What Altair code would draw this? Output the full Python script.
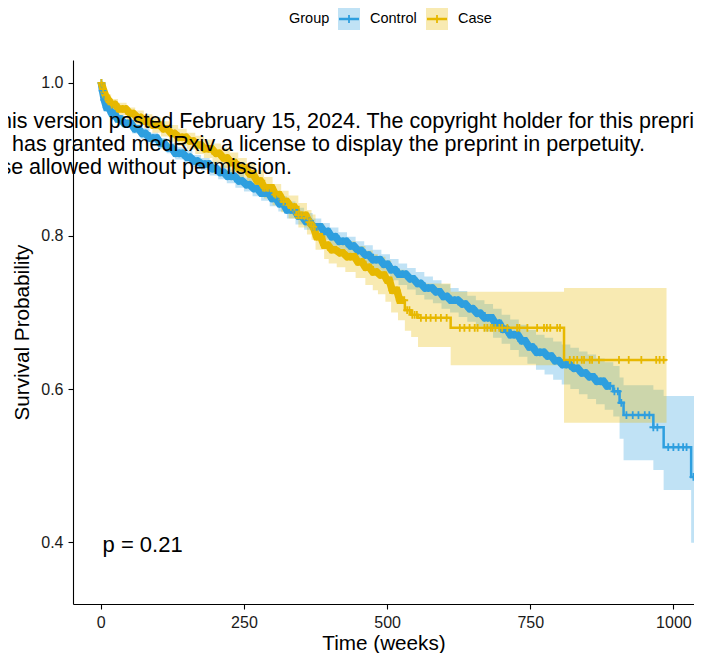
import bisect
import altair as alt
import pandas as pd

# ---------------- data ----------------
GROUPS = ["Control", "Case"]
COLORS = ["#2E9FDF", "#E7B800"]
LIGHT = ["#C0E2F5", "#F8EAB2"]

ctrl_time = [0, 2, 5, 10, 18, 28, 40, 55, 70, 85, 100, 115, 130, 145, 160, 175, 190, 205, 220, 235,
             250, 265, 280, 295, 310, 325, 340, 355, 370, 385, 400, 415, 430, 445, 460, 475, 490, 505,
             520, 535, 550, 565, 580, 595, 610, 625, 640, 655, 670, 685, 700, 715, 730, 745, 760, 775,
             790, 805, 820, 835, 850, 865, 880, 895, 906, 913, 965, 983, 1031, 1060]
ctrl_surv = [1.000, 0.990, 0.978, 0.968, 0.960, 0.953, 0.947, 0.940, 0.934, 0.928, 0.921, 0.915, 0.908,
             0.903, 0.898, 0.894, 0.888, 0.883, 0.878, 0.872, 0.867, 0.862, 0.856, 0.849, 0.842, 0.834,
             0.826, 0.819, 0.812, 0.806, 0.799, 0.793, 0.787, 0.781, 0.775, 0.769, 0.763, 0.756, 0.750,
             0.744, 0.738, 0.732, 0.727, 0.721, 0.716, 0.711, 0.705, 0.699, 0.693, 0.686, 0.678, 0.671,
             0.663, 0.655, 0.648, 0.643, 0.637, 0.632, 0.627, 0.621, 0.616, 0.610, 0.604, 0.597, 0.582,
             0.566, 0.550, 0.524, 0.485, 0.485]
ctrl_lo = [1.000, 0.986, 0.973, 0.963, 0.955, 0.948, 0.941, 0.934, 0.927, 0.921, 0.914, 0.908, 0.900,
           0.895, 0.890, 0.886, 0.879, 0.874, 0.869, 0.863, 0.858, 0.852, 0.846, 0.839, 0.832, 0.823,
           0.815, 0.808, 0.801, 0.795, 0.787, 0.781, 0.775, 0.769, 0.762, 0.756, 0.750, 0.742, 0.736,
           0.730, 0.723, 0.717, 0.712, 0.705, 0.700, 0.694, 0.688, 0.682, 0.675, 0.667, 0.659, 0.651,
           0.642, 0.633, 0.625, 0.619, 0.612, 0.606, 0.600, 0.593, 0.587, 0.580, 0.573, 0.564, 0.535,
           0.507, 0.494, 0.468, 0.399, 0.399]
ctrl_hi = [1.000, 0.994, 0.983, 0.973, 0.965, 0.958, 0.953, 0.946, 0.941, 0.935, 0.928, 0.922, 0.916,
           0.911, 0.906, 0.902, 0.897, 0.892, 0.887, 0.881, 0.876, 0.872, 0.866, 0.859, 0.852, 0.845,
           0.837, 0.830, 0.823, 0.817, 0.811, 0.805, 0.799, 0.793, 0.788, 0.782, 0.776, 0.770, 0.764,
           0.758, 0.753, 0.747, 0.742, 0.737, 0.732, 0.728, 0.722, 0.716, 0.711, 0.705, 0.697, 0.691,
           0.684, 0.677, 0.671, 0.667, 0.662, 0.658, 0.654, 0.649, 0.645, 0.640, 0.635, 0.630, 0.615,
           0.605, 0.599, 0.591, 0.591, 0.591]

case_time = [0, 2, 5, 10, 18, 30, 45, 60, 75, 90, 105, 120, 135, 150, 165, 180, 195, 210, 225, 240,
             255, 270, 285, 300, 315, 328, 345, 360, 368, 375, 390, 398, 412, 427, 445, 462, 475, 484,
             497, 507, 519, 531, 542, 554, 611, 809, 988]
case_surv = [1.000, 0.992, 0.984, 0.978, 0.972, 0.966, 0.960, 0.955, 0.950, 0.945, 0.940, 0.934, 0.929,
             0.924, 0.919, 0.914, 0.908, 0.902, 0.896, 0.889, 0.881, 0.872, 0.863, 0.854, 0.845, 0.838,
             0.827, 0.818, 0.812, 0.799, 0.788, 0.782, 0.778, 0.773, 0.766, 0.759, 0.753, 0.749, 0.742,
             0.729, 0.716, 0.703, 0.697, 0.693, 0.680, 0.638, 0.638]
case_lo = [1.000, 0.986, 0.977, 0.971, 0.965, 0.958, 0.952, 0.946, 0.941, 0.935, 0.930, 0.923, 0.918,
           0.913, 0.907, 0.902, 0.895, 0.889, 0.883, 0.876, 0.867, 0.858, 0.849, 0.840, 0.831, 0.823,
           0.811, 0.802, 0.795, 0.782, 0.770, 0.764, 0.759, 0.753, 0.745, 0.736, 0.729, 0.724, 0.714,
           0.700, 0.690, 0.676, 0.668, 0.655, 0.631, 0.556, 0.556]
case_hi = [1.000, 0.998, 0.991, 0.985, 0.979, 0.974, 0.968, 0.964, 0.959, 0.955, 0.950, 0.945, 0.940,
           0.935, 0.931, 0.926, 0.921, 0.915, 0.909, 0.902, 0.895, 0.886, 0.877, 0.868, 0.859, 0.853,
           0.843, 0.834, 0.828, 0.816, 0.806, 0.800, 0.797, 0.793, 0.787, 0.781, 0.776, 0.773, 0.768,
           0.760, 0.756, 0.750, 0.746, 0.738, 0.727, 0.732, 0.732]

# censoring times: a dense stretch (marks merge into a solid band) and sparse ones
ctrl_censor_dense = [1, 3, 6, 10, 14, 19, 24, 29, 35, 41, 47, 53, 59, 66, 72, 78, 85, 91, 98, 104, 111,
                     117, 124, 130, 137, 143, 150, 156, 163, 169, 176, 182, 189, 195, 202, 208, 215, 221,
                     228, 234, 241, 247, 254, 260, 267, 273, 280, 286, 293, 299, 306, 312, 319, 325, 332,
                     338, 345, 351, 358, 364, 371, 377, 384, 390, 397, 403, 410, 416, 423, 429, 436, 442,
                     449, 455, 462, 468, 475, 481, 488, 494, 501, 507, 514, 520, 527, 533, 540, 546, 553,
                     559, 566, 572, 579, 585, 592, 598, 605, 611, 618, 624, 631, 637, 644, 650, 657, 663,
                     670, 676, 683, 689, 696, 702, 709, 715, 722, 728, 735, 741, 748, 754, 761, 767, 774,
                     780, 787, 793, 800, 806, 813, 819, 826, 833, 840, 847, 853, 860, 866, 873, 878, 884,
                     890]
ctrl_censor_sparse = [897, 903, 909, 918, 929, 939, 950, 958, 965, 972, 991, 1000, 1009, 1017, 1023, 1035]
case_censor_dense = [1, 4, 8, 13, 19, 25, 31, 38, 44, 51, 57, 64, 70, 77, 83, 90, 96, 103, 109, 116, 123,
                     129, 136, 142, 149, 155, 162, 168, 175, 181, 188, 194, 201, 207, 214, 221, 227, 234,
                     240, 247, 253, 260, 266, 273, 279, 286, 292, 299, 305, 312, 319, 325, 332, 338, 345,
                     351, 358, 364, 371, 377, 384, 390, 397, 403, 410, 417, 423, 430, 436, 443, 449, 456,
                     462, 469, 475, 482, 488, 495, 500, 504, 509, 513, 517, 522, 526, 530]
case_censor_sparse = [535, 539, 544, 548, 552, 559, 568, 576, 585, 594, 604, 627, 635, 644, 653, 658, 670,
                      675, 681, 684, 689, 696, 701, 710, 727, 731, 745, 762, 774, 779, 785, 797, 802, 819,
                      826, 832, 840, 844, 854, 858, 870, 905, 922, 944, 970, 976, 983]

P_TEXT = "p = 0.21"
P_POS = (3, 0.396)

WATERMARK = [
    "this version posted February 15, 2024. The copyright holder for this preprint",
    "(which was not certified by peer review) is the author/funder, who has granted medRxiv a license to display the preprint in perpetuity.",
    "All rights reserved. No reuse allowed without permission.",
]

X_DOMAIN = [-48.6, 1036]
Y_DOMAIN = [0.319, 1.03]
FONT = "Liberation Sans"

# ---------------- tables ----------------
def curve_df(group, t, s, lo, hi):
    return pd.DataFrame({"group": group, "time": t, "surv": s, "lo": lo, "hi": hi})

def censor_df(group, times, t, s):
    vals = [s[bisect.bisect_right(t, c) - 1] for c in times]
    return pd.DataFrame({"group": group, "time": times, "surv": vals})

ctrl = curve_df("Control", ctrl_time, ctrl_surv, ctrl_lo, ctrl_hi)
case = curve_df("Case", case_time, case_surv, case_lo, case_hi)
ctrl_d = censor_df("Control", ctrl_censor_dense, ctrl_time, ctrl_surv)
case_d = censor_df("Case", case_censor_dense, case_time, case_surv)
ctrl_c = pd.concat([ctrl_d, censor_df("Control", ctrl_censor_sparse, ctrl_time, ctrl_surv)])
case_c = pd.concat([case_d, censor_df("Case", case_censor_sparse, case_time, case_surv)])

xs = alt.Scale(domain=X_DOMAIN, nice=False, zero=False)
ysc = alt.Scale(domain=Y_DOMAIN, nice=False, zero=False)
cs = alt.Scale(domain=GROUPS, range=COLORS)
COL = alt.Color("group:N", scale=cs, legend=None)

X = alt.X("time:Q", scale=xs, title="Time (weeks)",
          axis=alt.Axis(values=[0, 250, 500, 750, 1000], format="d", grid=False,
                        labelFlush=False, labelOverlap=False))
Y = alt.Y("surv:Q", scale=ysc, title="Survival Probability",
          axis=alt.Axis(values=[0.4, 0.6, 0.8, 1.0], format=".1f", grid=False))

def band(df):
    return alt.Chart(df).mark_area(interpolate="step-after", opacity=0.3, clip=True).encode(
        x=X, y="lo:Q", y2="hi:Q", color=COL)

def line(df):
    return alt.Chart(df).mark_line(interpolate="step-after", strokeWidth=2.5, clip=True).encode(
        x=X, y=Y, color=COL)

def dense_band(df):
    return alt.Chart(df).mark_line(strokeWidth=7.5, clip=True, strokeCap="butt").encode(
        x=X, y=Y, color=COL)

PLUS = "M-1,0L1,0M0,-1L0,1"

def cens(df):
    return alt.Chart(df).mark_point(shape=PLUS, size=60, filled=False, strokeWidth=1.8,
                                    opacity=1, clip=True).encode(x=X, y=Y, color=COL)

one = pd.DataFrame({"k": [0]})

p_df = pd.DataFrame({"time": [P_POS[0]], "surv": [P_POS[1]], "label": [P_TEXT]})
p_text = alt.Chart(p_df).mark_text(align="left", baseline="middle", fontSize=22, font=FONT,
                                   color="black").encode(x=X, y=Y, text="label:N")

# watermark overlay (pixel positions relative to the plot area)
wm = []
wm_specs = [(WATERMARK[0], "left", -79, 68), (WATERMARK[1], "right", 572, 91),
            (WATERMARK[2], "right", 219, 114)]
for txt, al, px, py in wm_specs:
    wm.append(alt.Chart(one).mark_text(text=txt, align=al, baseline="alphabetic", fontSize=21.5,
                                       font=FONT, color="black").encode(
        x=alt.value(px), y=alt.value(py)))

# legend drawn above the plot
leg = [alt.Chart(one).mark_text(text="Group", align="left", baseline="middle", fontSize=14.5,
                                font=FONT, color="black").encode(x=alt.value(216), y=alt.value(-41))]
for i, (g, c, light) in enumerate(zip(GROUPS, COLORS, LIGHT)):
    x0 = 265 + i * 88
    leg.append(alt.Chart(one).mark_rect(color=light).encode(
        x=alt.value(x0), x2=alt.value(x0 + 22), y=alt.value(-52), y2=alt.value(-30)))
    leg.append(alt.Chart(one).mark_rule(color=c, strokeWidth=2.5).encode(
        x=alt.value(x0 + 1), x2=alt.value(x0 + 21), y=alt.value(-41)))
    leg.append(alt.Chart(one).mark_rule(color=c, strokeWidth=1.8).encode(
        x=alt.value(x0 + 11), y=alt.value(-45), y2=alt.value(-37)))
    leg.append(alt.Chart(one).mark_text(text=g, align="left", baseline="middle", fontSize=14.5,
                                        font=FONT, color="black").encode(
        x=alt.value(x0 + 32), y=alt.value(-41)))

chart = alt.layer(
    band(ctrl), band(case),
    line(ctrl), dense_band(ctrl_d), line(case), dense_band(case_d),
    cens(ctrl_c), cens(case_c), p_text,
    *wm, *leg
).properties(
    width=621, height=544,
    autosize=alt.AutoSizeParams(type="none"),
    padding={"left": 65, "top": 52, "right": 0, "bottom": 49},
).configure_view(stroke=None).configure_axis(
    domainColor="black", domainWidth=1.1, tickColor="black", tickWidth=1.1, tickSize=5,
    labelFont=FONT, titleFont=FONT, labelFontSize=16, titleFontSize=20.7, labelColor="#1a1a1a",
    titleColor="black", titleFontWeight="normal",
).configure_axisX(labelPadding=5, titlePadding=3).configure_axisY(titlePadding=8, labelPadding=5)

chart.save("out.html", embed_options={"renderer": "svg", "actions": False})
